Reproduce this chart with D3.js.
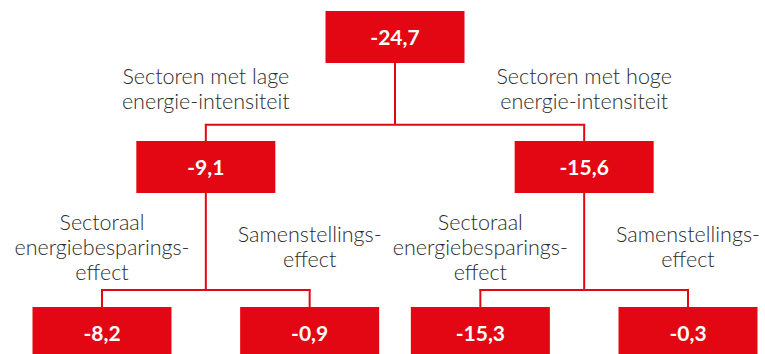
<!DOCTYPE html>
<html>
<head>
<meta charset="utf-8">
<script src="https://cdn.jsdelivr.net/npm/d3@7"></script>
<style>
  html, body { margin: 0; padding: 0; background: #fff; }
  svg { display: block; }
</style>
</head>
<body>
<svg id="chart" width="765" height="354"></svg>
<script>
// ---- data ----
const nodeIds    = ["root", "laag", "hoog", "laagSect", "laagSamen", "hoogSect", "hoogSamen"];
const parentIds  = ["",     "root", "root", "laag",     "laag",      "hoog",     "hoog"];
const values     = [-24.7,  -9.1,   -15.6,  -8.2,       -0.9,        -15.3,      -0.3];
const labels     = [
  [],
  ["Sectoren met lage", "energie-intensiteit"],
  ["Sectoren met hoge", "energie-intensiteit"],
  ["Sectoraal", "energiebesparings-", "effect"],
  ["Samenstellings-", "effect"],
  ["Sectoraal", "energiebesparings-", "effect"],
  ["Samenstellings-", "effect"]
];

// ---- layout ----
const RED = "#e30613";
const TEXT = "#2b2b2b";
const boxW = 139, boxH = 52;
const fmt = v => d3.format(".1f")(v).replace(".", ",").replace("−", "-");

const table = nodeIds.map((id, i) => ({ id, parent: parentIds[i] || null, value: values[i], label: labels[i] }));
const root = d3.stratify().id(d => d.id).parentId(d => d.parent)(table);

d3.tree()
  .nodeSize([1, 1])
  .separation((a, b) => a.parent === b.parent ? 1 : 0.822)(root);

const leafXs = root.descendants().map(d => d.x);
const x = d3.scaleLinear().domain(d3.extent(leafXs)).range([102, 688]);
const yTop = d3.scaleOrdinal().domain([0, 1, 2]).range([11, 141, 307]);
const yJoin = d3.scaleOrdinal().domain([0, 1]).range([124.7, 290]);
const labelMid = d3.scaleOrdinal().domain([1, 2]).range([96.5, 254.5]);
const lineH = 25;

const svg = d3.select("#chart");

// connectors
const links = svg.append("g")
  .attr("fill", "none")
  .attr("stroke", RED)
  .attr("stroke-width", 2);

root.descendants().filter(d => d.children).forEach(p => {
  const jy = yJoin(p.depth);
  links.append("line")
    .attr("x1", x(p.x)).attr("x2", x(p.x))
    .attr("y1", yTop(p.depth) + boxH).attr("y2", jy);
  const xs = p.children.map(c => x(c.x));
  links.append("line")
    .attr("x1", d3.min(xs) - 1).attr("x2", d3.max(xs) + 1)
    .attr("y1", jy).attr("y2", jy);
  p.children.forEach(c => {
    links.append("line")
      .attr("x1", x(c.x)).attr("x2", x(c.x))
      .attr("y1", jy).attr("y2", yTop(c.depth) + 1);
  });
});

// boxes
const nodes = svg.append("g").selectAll("g")
  .data(root.descendants())
  .join("g")
  .attr("transform", d => `translate(${x(d.x)},${yTop(d.depth)})`);

nodes.append("rect")
  .attr("x", -boxW / 2).attr("y", 0)
  .attr("width", boxW).attr("height", boxH)
  .attr("fill", RED);

nodes.append("text")
  .attr("x", 0).attr("y", boxH / 2 + 7.5)
  .attr("text-anchor", "middle")
  .attr("fill", "#fff")
  .attr("font-family", "Lato, 'Open Sans', sans-serif")
  .attr("font-weight", 700)
  .attr("font-size", 21)
  .text(d => fmt(d.data.value));

// labels
root.descendants().filter(d => d.depth > 0).forEach(d => {
  const lines = d.data.label;
  const mid = labelMid(d.depth);
  const t = svg.append("text")
    .attr("text-anchor", "middle")
    .attr("fill", TEXT)
    .attr("font-family", "Lato, 'Open Sans', sans-serif")
    .attr("font-weight", 300)
    .attr("font-size", 21.5);
  lines.forEach((ln, i) => {
    t.append("tspan")
      .attr("x", x(d.x))
      .attr("y", mid + (i - (lines.length - 1) / 2) * lineH)
      .text(ln);
  });
});
</script>
</body>
</html>
